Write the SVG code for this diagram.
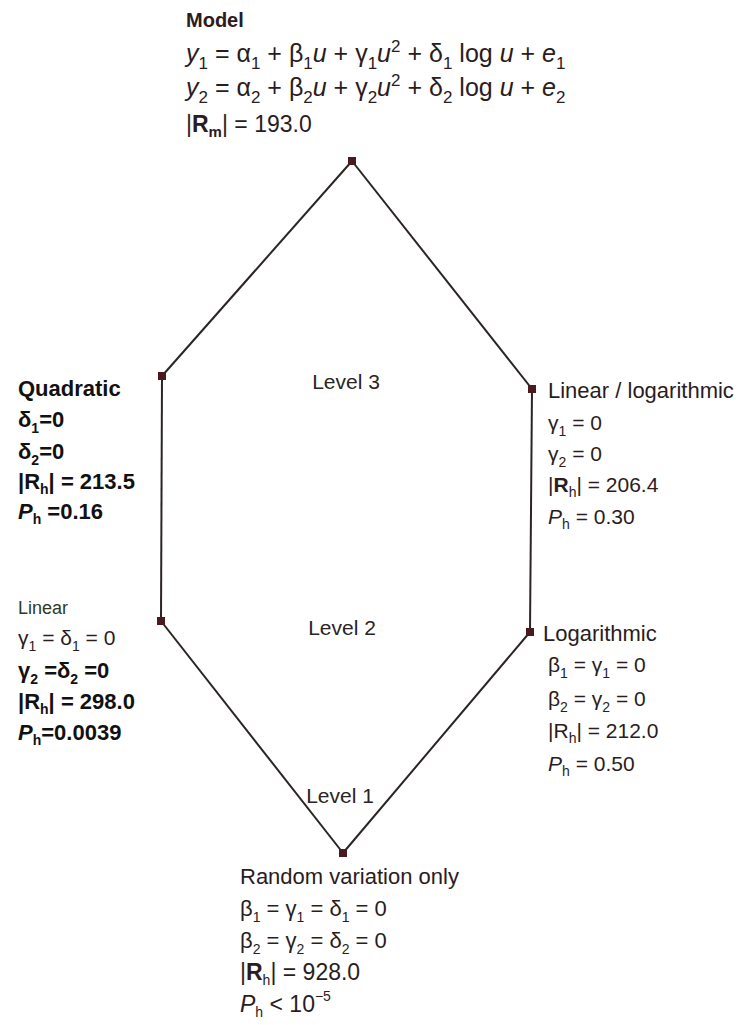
<svg xmlns="http://www.w3.org/2000/svg" width="750" height="1025" viewBox="0 0 750 1025">
<style>
.t{font-family:"Liberation Sans",Arial,sans-serif;font-size:21px;fill:#2a1c20}
.b{font-weight:bold;fill:#111}
.g{fill:#2f3a22}
.s{font-size:14px}
.i{font-style:italic}
.lvl{font-family:"Liberation Sans",Arial,sans-serif;font-size:21px;fill:#2a2424;text-anchor:middle}
.edge{stroke:#2b2424;stroke-width:2;fill:none}
.nd{fill:#4a1a1e}
</style>
<rect width="750" height="1025" fill="#ffffff"/>
<g id="connectors">
<line class="edge" x1="352" y1="161" x2="162" y2="376"/>
<line class="edge" x1="162" y1="376" x2="161" y2="621"/>
<line class="edge" x1="161" y1="621" x2="343" y2="853"/>
<line class="edge" x1="343" y1="853" x2="530" y2="632"/>
<line class="edge" x1="530" y1="632" x2="532" y2="389"/>
<line class="edge" x1="532" y1="389" x2="352" y2="161"/>
</g>
<g id="levels">
<text class="lvl" x="346" y="389">Level 3</text>
<text class="lvl" x="342" y="635">Level 2</text>
<text class="lvl" x="340" y="803">Level 1</text>
</g>
<g id="model">
<rect class="nd" x="348" y="157" width="8" height="8"/>
<text class="t" x="186" y="27" style="font-size:20px;font-weight:bold">Model</text>
<text class="t" x="186" y="62" style="font-size:25px"><tspan class="i">y</tspan><tspan class="s" style="font-size:17px" dy="7">1</tspan><tspan dy="-7"> = α</tspan><tspan style="font-size:17px" dy="7">1</tspan><tspan dy="-7"> + β</tspan><tspan style="font-size:17px" dy="7">1</tspan><tspan class="i" dy="-7">u</tspan><tspan> + γ</tspan><tspan style="font-size:17px" dy="7">1</tspan><tspan class="i" dy="-7">u</tspan><tspan style="font-size:17px" dy="-10">2</tspan><tspan dy="10"> + δ</tspan><tspan style="font-size:17px" dy="7">1</tspan><tspan dy="-7"> log </tspan><tspan class="i">u</tspan><tspan>  + </tspan><tspan class="i">e</tspan><tspan style="font-size:17px" dy="7">1</tspan></text>
<text class="t" x="186" y="96" style="font-size:25px"><tspan class="i">y</tspan><tspan style="font-size:17px" dy="7">2</tspan><tspan dy="-7"> = α</tspan><tspan style="font-size:17px" dy="7">2</tspan><tspan dy="-7"> + β</tspan><tspan style="font-size:17px" dy="7">2</tspan><tspan class="i" dy="-7">u</tspan><tspan> + γ</tspan><tspan style="font-size:17px" dy="7">2</tspan><tspan class="i" dy="-7">u</tspan><tspan style="font-size:17px" dy="-10">2</tspan><tspan dy="10"> + δ</tspan><tspan style="font-size:17px" dy="7">2</tspan><tspan dy="-7"> log </tspan><tspan class="i">u</tspan><tspan>  + </tspan><tspan class="i">e</tspan><tspan style="font-size:17px" dy="7">2</tspan></text>
<text class="t" x="186" y="132" style="font-size:23px">|<tspan font-weight="bold">R</tspan><tspan style="font-size:15px" dy="5" font-weight="bold">m</tspan><tspan dy="-5">| = 193.0</tspan></text>
</g>
<g id="quadratic">
<rect class="nd" x="158" y="372" width="8" height="8"/>
<text class="t b" x="18" y="396" style="font-size:22px">Quadratic</text>
<text class="t b" x="18" y="427" style="font-size:22px">δ<tspan class="s" dy="6">1</tspan><tspan dy="-6">=0</tspan></text>
<text class="t b" x="18" y="459" style="font-size:22px">δ<tspan class="s" dy="6">2</tspan><tspan dy="-6">=0</tspan></text>
<text class="t b" x="18" y="489" style="font-size:22px">|R<tspan class="s" dy="5">h</tspan><tspan dy="-5">| = 213.5</tspan></text>
<text class="t b" x="18" y="519" style="font-size:22px"><tspan class="i">P</tspan><tspan class="s" dy="5">h</tspan><tspan dy="-5"> =0.16</tspan></text>
</g>
<g id="linlog">
<rect class="nd" x="528" y="385" width="8" height="8"/>
<text class="t" x="548" y="398" style="font-size:22px">Linear / logarithmic</text>
<text class="t" x="548" y="430">γ<tspan class="s" dy="6">1</tspan><tspan dy="-6"> = 0</tspan></text>
<text class="t" x="548" y="461">γ<tspan class="s" dy="6">2</tspan><tspan dy="-6"> = 0</tspan></text>
<text class="t" x="548" y="492">|<tspan font-weight="bold">R</tspan><tspan class="s" dy="5">h</tspan><tspan dy="-5">| = 206.4</tspan></text>
<text class="t" x="548" y="524"><tspan class="i">P</tspan><tspan class="s" dy="5">h</tspan><tspan dy="-5"> = 0.30</tspan></text>
</g>
<g id="linear">
<rect class="nd" x="157" y="617" width="8" height="8"/>
<text class="t g" x="18" y="614" style="font-size:18px">Linear</text>
<text class="t" x="18" y="645">γ<tspan class="s" dy="6">1</tspan><tspan dy="-6"> = δ</tspan><tspan class="s" dy="6">1</tspan><tspan dy="-6"> = 0</tspan></text>
<text class="t b" x="18" y="678" style="font-size:22px">γ<tspan class="s" dy="6">2</tspan><tspan dy="-6"> =δ</tspan><tspan class="s" dy="6">2</tspan><tspan dy="-6"> =0</tspan></text>
<text class="t b" x="18" y="709" style="font-size:22px">|R<tspan class="s" dy="5">h</tspan><tspan dy="-5">| = 298.0</tspan></text>
<text class="t b" x="18" y="740" style="font-size:22px"><tspan class="i">P</tspan><tspan class="s" dy="5">h</tspan><tspan dy="-5">=0.0039</tspan></text>
</g>
<g id="logarithmic">
<rect class="nd" x="526" y="628" width="8" height="8"/>
<text class="t" x="543" y="641" style="font-size:22px">Logarithmic</text>
<text class="t" x="548" y="672">β<tspan class="s" dy="6">1</tspan><tspan dy="-6"> = γ</tspan><tspan class="s" dy="6">1</tspan><tspan dy="-6"> = 0</tspan></text>
<text class="t" x="548" y="706">β<tspan class="s" dy="6">2</tspan><tspan dy="-6"> = γ</tspan><tspan class="s" dy="6">2</tspan><tspan dy="-6"> = 0</tspan></text>
<text class="t" x="548" y="738">|R<tspan class="s" dy="5">h</tspan><tspan dy="-5">| = 212.0</tspan></text>
<text class="t" x="548" y="771"><tspan class="i">P</tspan><tspan class="s" dy="5">h</tspan><tspan dy="-5"> = 0.50</tspan></text>
</g>
<g id="random">
<rect class="nd" x="339" y="849" width="8" height="8"/>
<text class="t" x="240" y="884" style="font-size:22px">Random variation only</text>
<text class="t" x="240" y="916" style="font-size:22px">β<tspan class="s" dy="6">1</tspan><tspan dy="-6"> = γ</tspan><tspan class="s" dy="6">1</tspan><tspan dy="-6"> = δ</tspan><tspan class="s" dy="6">1</tspan><tspan dy="-6"> = 0</tspan></text>
<text class="t" x="240" y="948" style="font-size:22px">β<tspan class="s" dy="6">2</tspan><tspan dy="-6"> = γ</tspan><tspan class="s" dy="6">2</tspan><tspan dy="-6"> = δ</tspan><tspan class="s" dy="6">2</tspan><tspan dy="-6"> = 0</tspan></text>
<text class="t" x="240" y="980" style="font-size:23px">|<tspan font-weight="bold">R</tspan><tspan class="s" dy="5">h</tspan><tspan dy="-5">| = 928.0</tspan></text>
<text class="t" x="240" y="1012" style="font-size:23px"><tspan class="i">P</tspan><tspan class="s" dy="5">h</tspan><tspan dy="-5"> &lt; 10</tspan><tspan class="s" dy="-11">−5</tspan></text>
</g>
</svg>
